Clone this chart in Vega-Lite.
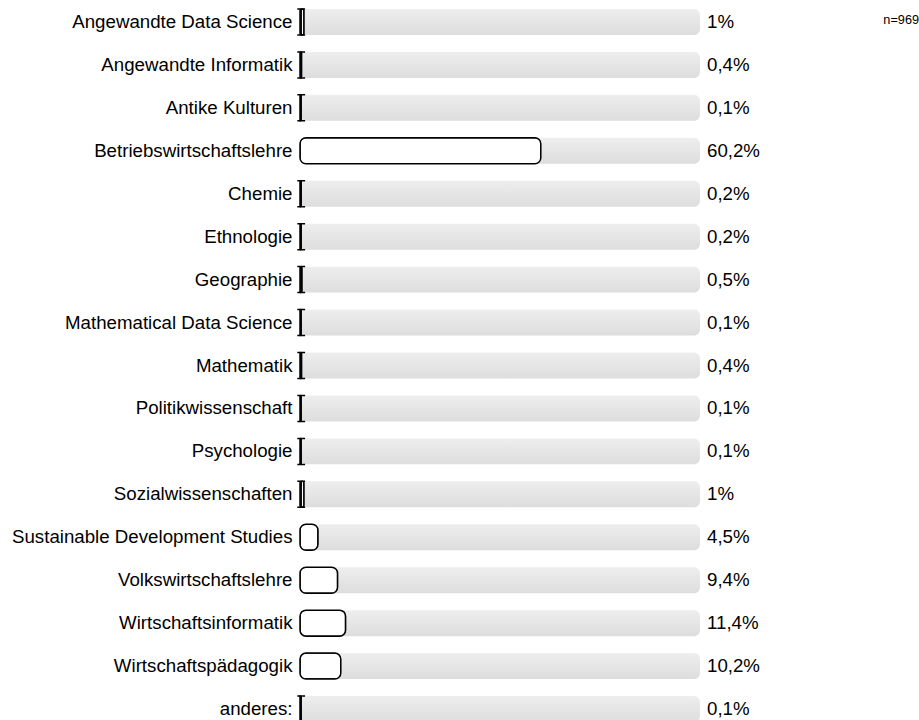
{
  "$schema": "https://vega.github.io/schema/vega-lite/v6.json",
  "width": 400,
  "height": 731,
  "autosize": "none",
  "padding": {"left": 300, "top": 0, "right": 219, "bottom": -11},
  "background": "white",
  "config": {"view": {"stroke": null}, "font": "Liberation Sans"},
  "data": {"values": [
    {"cat": "Angewandte Data Science", "v": 1.0, "lab": "1%"},
    {"cat": "Angewandte Informatik", "v": 0.4, "lab": "0,4%"},
    {"cat": "Antike Kulturen", "v": 0.1, "lab": "0,1%"},
    {"cat": "Betriebswirtschaftslehre", "v": 60.2, "lab": "60,2%"},
    {"cat": "Chemie", "v": 0.2, "lab": "0,2%"},
    {"cat": "Ethnologie", "v": 0.2, "lab": "0,2%"},
    {"cat": "Geographie", "v": 0.5, "lab": "0,5%"},
    {"cat": "Mathematical Data Science", "v": 0.1, "lab": "0,1%"},
    {"cat": "Mathematik", "v": 0.4, "lab": "0,4%"},
    {"cat": "Politikwissenschaft", "v": 0.1, "lab": "0,1%"},
    {"cat": "Psychologie", "v": 0.1, "lab": "0,1%"},
    {"cat": "Sozialwissenschaften", "v": 1.0, "lab": "1%"},
    {"cat": "Sustainable Development Studies", "v": 4.5, "lab": "4,5%"},
    {"cat": "Volkswirtschaftslehre", "v": 9.4, "lab": "9,4%"},
    {"cat": "Wirtschaftsinformatik", "v": 11.4, "lab": "11,4%"},
    {"cat": "Wirtschaftspädagogik", "v": 10.2, "lab": "10,2%"},
    {"cat": "anderes:", "v": 0.1, "lab": "0,1%"}
  ]},
  "encoding": {
    "y": {
      "field": "cat", "type": "nominal", "sort": null,
      "scale": {"paddingInner": 0.395, "paddingOuter": 0.2095},
      "axis": {"title": null, "domain": false, "ticks": false, "labelFontSize": 18.7, "labelColor": "#000", "labelPadding": 8, "labelFont": "Liberation Sans", "labelLimit": 400}
    }
  },
  "layer": [
    {
      "mark": {"type": "bar", "cornerRadius": 6, "fill": {"gradient": "linear", "x1": 0, "y1": 0, "x2": 0, "y2": 1, "stops": [{"offset": 0, "color": "#eeeeee"}, {"offset": 1, "color": "#dddddd"}]}},
      "encoding": {"x": {"datum": 0, "type": "quantitative", "scale": {"domain": [0, 100]}, "axis": null}, "x2": {"datum": 100}}
    },
    {
      "mark": {"type": "bar", "cornerRadius": 6, "fill": "white", "stroke": "black", "strokeWidth": 1.5},
      "encoding": {"x": {"field": "v", "type": "quantitative", "scale": {"domain": [0, 100]}, "axis": null}}
    },
    {
      "transform": [{"filter": "datum.v <= 1"}],
      "mark": {"type": "point", "shape": "M-0.3,-1H0.3M0,-1V1M-0.3,1H0.3", "filled": false, "stroke": "black", "strokeWidth": 1.5, "size": 676, "opacity": 1},
      "encoding": {"x": {"datum": 0.3, "type": "quantitative"}}
    },
    {
      "mark": {"type": "text", "align": "left", "dx": 7, "fontSize": 18.7, "color": "#000"},
      "encoding": {"x": {"datum": 100, "type": "quantitative"}, "text": {"field": "lab"}}
    },
    {
      "data": {"values": [{"cat": "Angewandte Data Science", "t": "n=969"}]},
      "mark": {"type": "text", "align": "right", "dx": 219, "dy": -2, "fontSize": 12.7, "color": "#000"},
      "encoding": {"x": {"datum": 100, "type": "quantitative"}, "text": {"field": "t"}}
    }
  ]
}
